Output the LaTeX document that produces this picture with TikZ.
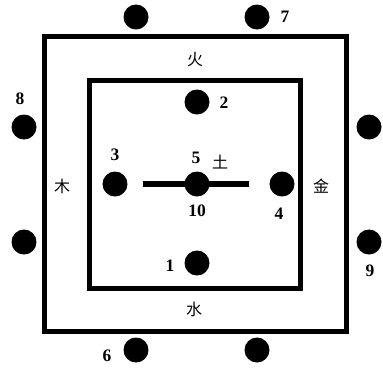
\documentclass[tikz,border=0pt]{standalone}
\usepackage{fontspec}
\setmainfont{Liberation Serif}
\newfontfamily\cjk{Noto Sans CJK SC}
\begin{document}
\begin{tikzpicture}[x=1pt,y=-1pt,
  dot/.style={circle,fill=black,inner sep=0pt,minimum size=25pt},
  num/.style={inner sep=0pt,font=\fontsize{17.5}{17.5}\selectfont\bfseries},
  han/.style={inner sep=0pt,font=\fontsize{16}{16}\selectfont\cjk},
  frame/.style={line width=5pt}]
\useasboundingbox (0,0) rectangle (383,368);
\draw[frame] (44,36) rectangle (346.5,331.5);
\draw[frame] (89,80) rectangle (300.7,288);
% outer dots
\node[dot] (t1) at (136,17) {};
\node[dot] (t2) at (257,17) {};
\node[dot] (l1) at (24,127) {};
\node[dot] (l2) at (24,242) {};
\node[dot] (r1) at (369,127) {};
\node[dot] (r2) at (369,242) {};
\node[dot] (b1) at (136,350) {};
\node[dot] (b2) at (257,350) {};
\node[num] (n7) at (285,17) {7};
\node[num] (n8) at (20,99) {8};
\node[num] (n9) at (370,271) {9};
\node[num] (n6) at (107,356) {6};
% inner
\node[dot] (d2) at (197,102) {};
\node[num] (n2) at (224,103) {2};
\node[dot] (d3) at (115,184) {};
\node[num] (n3) at (115,155) {3};
\node[dot] (d4) at (282,184) {};
\node[num] (n4) at (279,214) {4};
\node[dot] (d1) at (197,263) {};
\node[num] (n1) at (170,266) {1};
\coordinate (la) at (143,184);
\coordinate (lb) at (249,184);
\draw[line width=6pt] (la) -- (lb);
\node[dot] (d5) at (197,184) {};
\node[num] (n5) at (196,158) {5};
\node[num] (n10) at (197,211) {10};
\node[han] (tu) at (220,162) {土};
\node[han] (jin) at (321,186) {金};
\node[han] (mu) at (62,186) {木};
\node[han] (huo) at (195,60) {火};
\node[han] (shui) at (194,309) {水};
\end{tikzpicture}
\end{document}
